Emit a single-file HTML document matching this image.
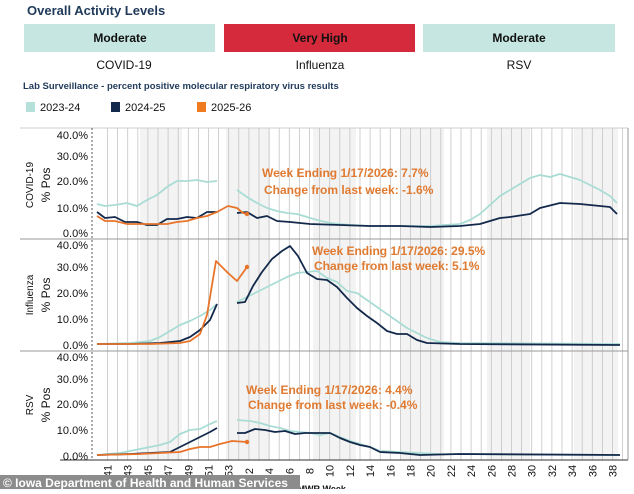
<!DOCTYPE html>
<html><head><meta charset="utf-8"><style>
body{margin:0;width:634px;height:489px;background:#fff;overflow:hidden;font-family:"Liberation Sans",sans-serif}
</style></head><body>
<svg width="634" height="489" viewBox="0 0 634 489" xmlns="http://www.w3.org/2000/svg" font-family="Liberation Sans, sans-serif">
<text x="27" y="15" font-size="13" font-weight="bold" fill="#1f3a5a">Overall Activity Levels</text>
<rect x="24" y="24" width="191" height="28" fill="#c5e6e1"/>
<rect x="224" y="24" width="191" height="28" fill="#d42a3c"/>
<rect x="423" y="24" width="192" height="28" fill="#c5e6e1"/>
<g font-size="12" font-weight="bold" text-anchor="middle" fill="#111">
<text x="120" y="42">Moderate</text><text x="320" y="42">Very High</text><text x="519" y="42">Moderate</text></g>
<g font-size="12" text-anchor="middle" fill="#111">
<text x="124" y="69">COVID-19</text><text x="320" y="69">Influenza</text><text x="519" y="69">RSV</text></g>
<text x="23" y="89" font-size="9.5" font-weight="bold" fill="#1f3a5a">Lab Surveillance - percent positive molecular respiratory virus results</text>
<rect x="26" y="102" width="9" height="10" fill="#b6e0da"/><text x="40" y="111" font-size="11" fill="#111">2023-24</text>
<rect x="111" y="102" width="9" height="10" fill="#13294b"/><text x="125" y="111" font-size="11" fill="#111">2024-25</text>
<rect x="197" y="102" width="9" height="10" fill="#f07c22"/><text x="211" y="111" font-size="11" fill="#111">2025-26</text>
<g fill="#f3f3f3">
<rect x="140" y="128" width="42" height="332"/><rect x="226" y="128" width="44" height="332"/>
<rect x="313" y="128" width="43" height="332"/><rect x="400" y="128" width="44" height="332"/>
<rect x="487" y="128" width="43" height="332"/><rect x="574" y="128" width="44" height="332"/>
</g>
<g stroke="#c4c4c4" stroke-width="0.8" id="grid"></g>
<line x1="20" y1="128" x2="628" y2="128" stroke="#ccc"/>
<line x1="92" y1="128" x2="92" y2="460" stroke="#555" stroke-dasharray="2,2"/>
<line x1="20" y1="239" x2="628" y2="239" stroke="#999"/>
<line x1="20" y1="351" x2="628" y2="351" stroke="#999"/>
<line x1="60" y1="460" x2="628" y2="460" stroke="#333"/>
<line x1="628" y1="128" x2="628" y2="460" stroke="#999"/>
<g font-size="11" text-anchor="end" fill="#111">
<text x="88" y="139">40.0%</text><text x="88" y="160">30.0%</text><text x="88" y="185">20.0%</text><text x="88" y="212">10.0%</text><text x="88" y="237">0.0%</text>
<text x="88" y="249">40.0%</text><text x="88" y="271">30.0%</text><text x="88" y="297">20.0%</text><text x="88" y="323">10.0%</text><text x="88" y="349">0.0%</text>
<text x="88" y="361">40.0%</text><text x="88" y="383">30.0%</text><text x="88" y="408">20.0%</text><text x="88" y="434">10.0%</text><text x="88" y="460">0.0%</text>
</g>
<g font-size="10" fill="#111" text-anchor="middle">
<text transform="translate(33,185) rotate(-90)">COVID-19</text>
<text transform="translate(33,295) rotate(-90)">Influenza</text>
<text transform="translate(33,405) rotate(-90)">RSV</text>
</g>
<g font-size="12" fill="#111" text-anchor="middle">
<text transform="translate(50,185) rotate(-90)">% Pos</text>
<text transform="translate(50,295) rotate(-90)">% Pos</text>
<text transform="translate(50,405) rotate(-90)">% Pos</text>
</g>
<g fill="none" stroke-width="1.8" stroke-linejoin="round">
<polyline stroke="#a9dcd4" points="97,204 105,206 115,205 127,203 137,206 147,200 157,195 167,187 177,181 187,181 197,180 207,182 217,181"/>
<polyline stroke="#a9dcd4" points="237,190 247,197 257,203 267,208 277,211 287,213 297,214 307,217 317,220 330,223 350,225 370,226 400,226 430,226 460,224 470,220 480,214 490,205 500,196 510,190 520,184 530,178 540,175 550,177 560,174 570,177 580,180 590,185 600,190 610,196 617,203"/>
<polyline stroke="#13294b" points="97,212 105,218 115,217 125,222 137,222 147,225 157,225 167,219 177,219 187,217 197,218 207,212 217,212"/>
<polyline stroke="#13294b" points="237,213 247,212 257,218 267,216 277,221 290,222 310,224 340,225 370,226 400,226 430,227 460,226 480,224 490,221 500,218 510,217 530,214 540,208 560,203 580,204 600,206 610,207 617,214"/>
<polyline stroke="#e8742a" points="97,216 105,221 115,221 127,224 147,224 167,224 177,222 187,221 197,218 207,216 217,212 228,206 237,208 243,213 247,214"/>
<polyline stroke="#a9dcd4" points="97,344 130,343 150,341 160,337 170,331 180,325 190,321 200,316 210,310 217,304"/>
<polyline stroke="#a9dcd4" points="237,302 247,297 257,292 267,287 277,282 287,277 297,273 307,272 317,271 327,278 337,282 347,291 357,293 367,300 377,307 387,314 397,321 407,328 417,333 427,338 440,342 460,343 620,344"/>
<polyline stroke="#13294b" points="97,344 130,344 160,343 180,341 190,337 200,330 210,320 217,304"/>
<polyline stroke="#13294b" points="237,303 245,302 253,286 262,272 272,259 282,251 290,246 298,256 307,273 317,279 327,280 337,287 347,298 357,308 367,316 377,323 387,331 397,334 407,334 417,340 427,343 460,344 620,345"/>
<polyline stroke="#e8742a" points="97,344 150,344 180,343 190,341 200,334 207,315 216,261 228,273 237,281 247,267"/>
<polyline stroke="#a9dcd4" points="97,455 120,453 140,449 150,447 160,445 170,442 180,434 190,430 200,429 210,424 217,421"/>
<polyline stroke="#a9dcd4" points="237,420 250,421 260,423 270,426 280,428 290,431 300,432 310,433 320,435 330,433 340,437 350,441 360,444 370,447 380,451 400,452 420,453 440,454 620,455"/>
<polyline stroke="#13294b" points="97,455 130,454 150,453 170,452 180,447 190,442 200,437 210,432 217,428"/>
<polyline stroke="#13294b" points="237,433 245,433 255,429 265,430 275,432 285,431 295,434 305,433 320,433 330,433 340,438 350,442 360,445 370,447 380,452 400,453 420,455 460,454 620,455"/>
<polyline stroke="#e8742a" points="97,455 140,454 160,453 180,452 190,449 200,447 210,447 220,444 232,441 247,442"/>
</g>
<g fill="#e8742a"><circle cx="247" cy="214" r="2.2"/><circle cx="247" cy="267" r="2.2"/><circle cx="247" cy="442" r="2.2"/></g>
<g font-size="12" font-weight="bold" fill="#e07a30">
<text x="262" y="177">Week Ending 1/17/2026: 7.7%</text><text x="264" y="194">Change from last week:  -1.6%</text>
<text x="312" y="255">Week Ending 1/17/2026: 29.5%</text><text x="314" y="270">Change from last week:  5.1%</text>
<text x="246" y="394">Week Ending 1/17/2026: 4.4%</text><text x="248" y="409">Change from last week:  -0.4%</text>
</g>
<g id="ticks" font-size="11" fill="#111"></g>
<text x="290" y="492" font-size="9" font-weight="bold" fill="#111">MMWR Week</text>
<rect x="0" y="475" width="300" height="14" fill="#8c8c8c"/>
<text x="3" y="487" font-size="12" font-weight="bold" fill="#fff">© Iowa Department of Health and Human Services</text>
<script>
var g=document.getElementById('grid'),t=document.getElementById('ticks'),ns='http://www.w3.org/2000/svg';
for(var i=0;i<=51;i++){var x=107.5+i*10.1;if(x>627)break;var l=document.createElementNS(ns,'line');l.setAttribute('x1',x);l.setAttribute('x2',x);l.setAttribute('y1',128);l.setAttribute('y2',460);g.appendChild(l);
var w=i<=12?41+i:i-12;if(w%2==1&&i<=12||i>12&&w%2==0){var tx=document.createElementNS(ns,'text');tx.setAttribute('transform','translate('+(x+4)+',471) rotate(-90)');tx.setAttribute('text-anchor','middle');tx.textContent=w;t.appendChild(tx);}}
</script>
</svg>
</body></html>
